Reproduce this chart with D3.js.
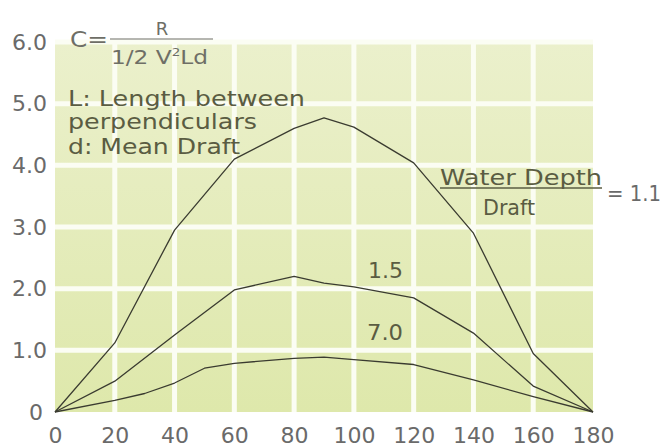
<!DOCTYPE html>
<html>
<head>
<meta charset="utf-8">
<script src="https://cdn.jsdelivr.net/npm/d3@7"></script>
<style>
  html, body { margin: 0; padding: 0; background: #fff; }
  svg { display: block; }
  text { font-family: "DejaVu Sans", sans-serif; }
</style>
</head>
<body>
<svg id="chart" width="669" height="447"></svg>
<script>
// Drift angle (deg) on the x axis, resistance coefficient C on the y axis
const xTicks = [0, 20, 40, 60, 80, 100, 120, 140, 160, 180];
const yTicks = [0, 1, 2, 3, 4, 5, 6];
const yTickLabels = ["0", "1.0", "2.0", "3.0", "4.0", "5.0", "6.0"];

// Water depth / draft = 1.1
const angleShallow = [0, 20, 40, 60, 80, 90, 100, 120, 140, 160, 180];
const coefShallow  = [0, 1.12, 2.95, 4.1, 4.6, 4.77, 4.62, 4.04, 2.9, 0.95, 0];

// Water depth / draft = 1.5
const angleMid = [0, 20, 40, 60, 80, 90, 100, 120, 140, 160, 180];
const coefMid  = [0, 0.5, 1.25, 1.98, 2.2, 2.09, 2.03, 1.85, 1.28, 0.42, 0];

// Water depth / draft = 7.0
const angleDeep = [0, 20, 30, 40, 50, 60, 80, 90, 100, 120, 140, 160, 180];
const coefDeep  = [0, 0.19, 0.3, 0.47, 0.71, 0.79, 0.87, 0.89, 0.85, 0.77, 0.52, 0.25, 0];

const svg = d3.select("#chart");
const x = d3.scaleLinear().domain([0, 180]).range([55, 593]);
const y = d3.scaleLinear().domain([0, 6]).range([412, 42]);

// background panel
const defs = svg.append("defs");
const grad = defs.append("linearGradient")
  .attr("id", "panel").attr("x1", 0).attr("y1", 0).attr("x2", 0).attr("y2", 1);
grad.append("stop").attr("offset", "0%").attr("stop-color", "#ebf0cc");
grad.append("stop").attr("offset", "100%").attr("stop-color", "#dee8ab");

svg.append("rect")
  .attr("x", x(0)).attr("y", y(6))
  .attr("width", x(180) - x(0)).attr("height", y(0) - y(6))
  .attr("fill", "url(#panel)");

// white grid bands
const grid = svg.append("g").attr("stroke", "#fbfdf3").attr("stroke-width", 5);
grid.selectAll("line.h").data(yTicks.filter(d => d > 0)).join("line")
  .attr("class", "h")
  .attr("x1", x(0)).attr("x2", x(180))
  .attr("y1", d => y(d)).attr("y2", d => y(d));
grid.selectAll("line.v").data(xTicks.filter(d => d > 0 && d < 180)).join("line")
  .attr("class", "v")
  .attr("x1", d => x(d)).attr("x2", d => x(d))
  .attr("y1", y(6)).attr("y2", y(0));

// axes
const axisColor = "#6a6a6a";
const yAxis = svg.append("g")
  .attr("transform", `translate(${x(0)},0)`)
  .call(d3.axisLeft(y).tickValues(yTicks).tickSize(0).tickPadding(8)
    .tickFormat((d, i) => yTickLabels[i]));
yAxis.select(".domain").remove();
yAxis.selectAll("text")
  .attr("font-size", 22).attr("fill", axisColor)
  .attr("font-family", "DejaVu Sans, sans-serif")
  .attr("x", d => d === 0 ? -12 : -8);

const xAxis = svg.append("g")
  .attr("transform", `translate(0,${y(0)})`)
  .call(d3.axisBottom(x).tickValues(xTicks).tickSize(0).tickPadding(15));
xAxis.select(".domain").remove();
xAxis.selectAll("text")
  .attr("font-size", 22).attr("fill", axisColor)
  .attr("font-family", "DejaVu Sans, sans-serif");

// curves
const line = d3.line().x(d => x(d[0])).y(d => y(d[1]));
const series = [
  d3.zip(angleShallow, coefShallow),
  d3.zip(angleMid, coefMid),
  d3.zip(angleDeep, coefDeep)
];
svg.append("g").selectAll("path").data(series).join("path")
  .attr("d", line)
  .attr("fill", "none")
  .attr("stroke", "#3a3b30")
  .attr("stroke-width", 1.3)
  .attr("stroke-linejoin", "round");

// formula  C = R / (1/2 V²Ld)
const formulaColor = "#6e6e66";
const f = svg.append("g").attr("fill", formulaColor);
f.append("text").attr("x", 70).attr("y", 47).attr("font-size", 21)
  .attr("textLength", 38).attr("lengthAdjust", "spacingAndGlyphs").text("C=");
f.append("line").attr("x1", 110).attr("x2", 213).attr("y1", 39).attr("y2", 39)
  .attr("stroke", formulaColor).attr("stroke-width", 1.2);
f.append("text").attr("x", 162).attr("y", 35).attr("font-size", 18)
  .attr("text-anchor", "middle").text("R");
const den = f.append("text").attr("x", 111).attr("y", 64).attr("font-size", 19)
  .attr("textLength", 97).attr("lengthAdjust", "spacingAndGlyphs");
den.append("tspan").text("1/2 V");
den.append("tspan").attr("font-size", 11).attr("dy", -8).text("2");
den.append("tspan").attr("dy", 8).text("Ld");

// legend notes
const noteColor = "#5a5c42";
const notes = svg.append("g").attr("fill", noteColor).attr("font-size", 21);
notes.append("text").attr("x", 68).attr("y", 106)
  .attr("textLength", 237).attr("lengthAdjust", "spacingAndGlyphs").text("L: Length between");
notes.append("text").attr("x", 68).attr("y", 129)
  .attr("textLength", 189).attr("lengthAdjust", "spacingAndGlyphs").text("perpendiculars");
notes.append("text").attr("x", 68).attr("y", 154)
  .attr("textLength", 172).attr("lengthAdjust", "spacingAndGlyphs").text("d: Mean Draft");

// depth ratio labels
notes.append("text").attr("x", 440).attr("y", 185)
  .attr("textLength", 162).attr("lengthAdjust", "spacingAndGlyphs").text("Water Depth");
notes.append("line").attr("x1", 440).attr("x2", 602).attr("y1", 188).attr("y2", 188)
  .attr("stroke", noteColor).attr("stroke-width", 1.3);
notes.append("text").attr("x", 483).attr("y", 215)
  .attr("textLength", 52).attr("lengthAdjust", "spacingAndGlyphs").text("Draft");
svg.append("text").attr("x", 607).attr("y", 201).attr("font-size", 21)
  .attr("fill", axisColor)
  .attr("textLength", 54).attr("lengthAdjust", "spacingAndGlyphs").text("= 1.1");
notes.append("text").attr("x", 368).attr("y", 278)
  .attr("textLength", 35).attr("lengthAdjust", "spacingAndGlyphs").text("1.5");
notes.append("text").attr("x", 367).attr("y", 340)
  .attr("textLength", 36).attr("lengthAdjust", "spacingAndGlyphs").text("7.0");
</script>
</body>
</html>
